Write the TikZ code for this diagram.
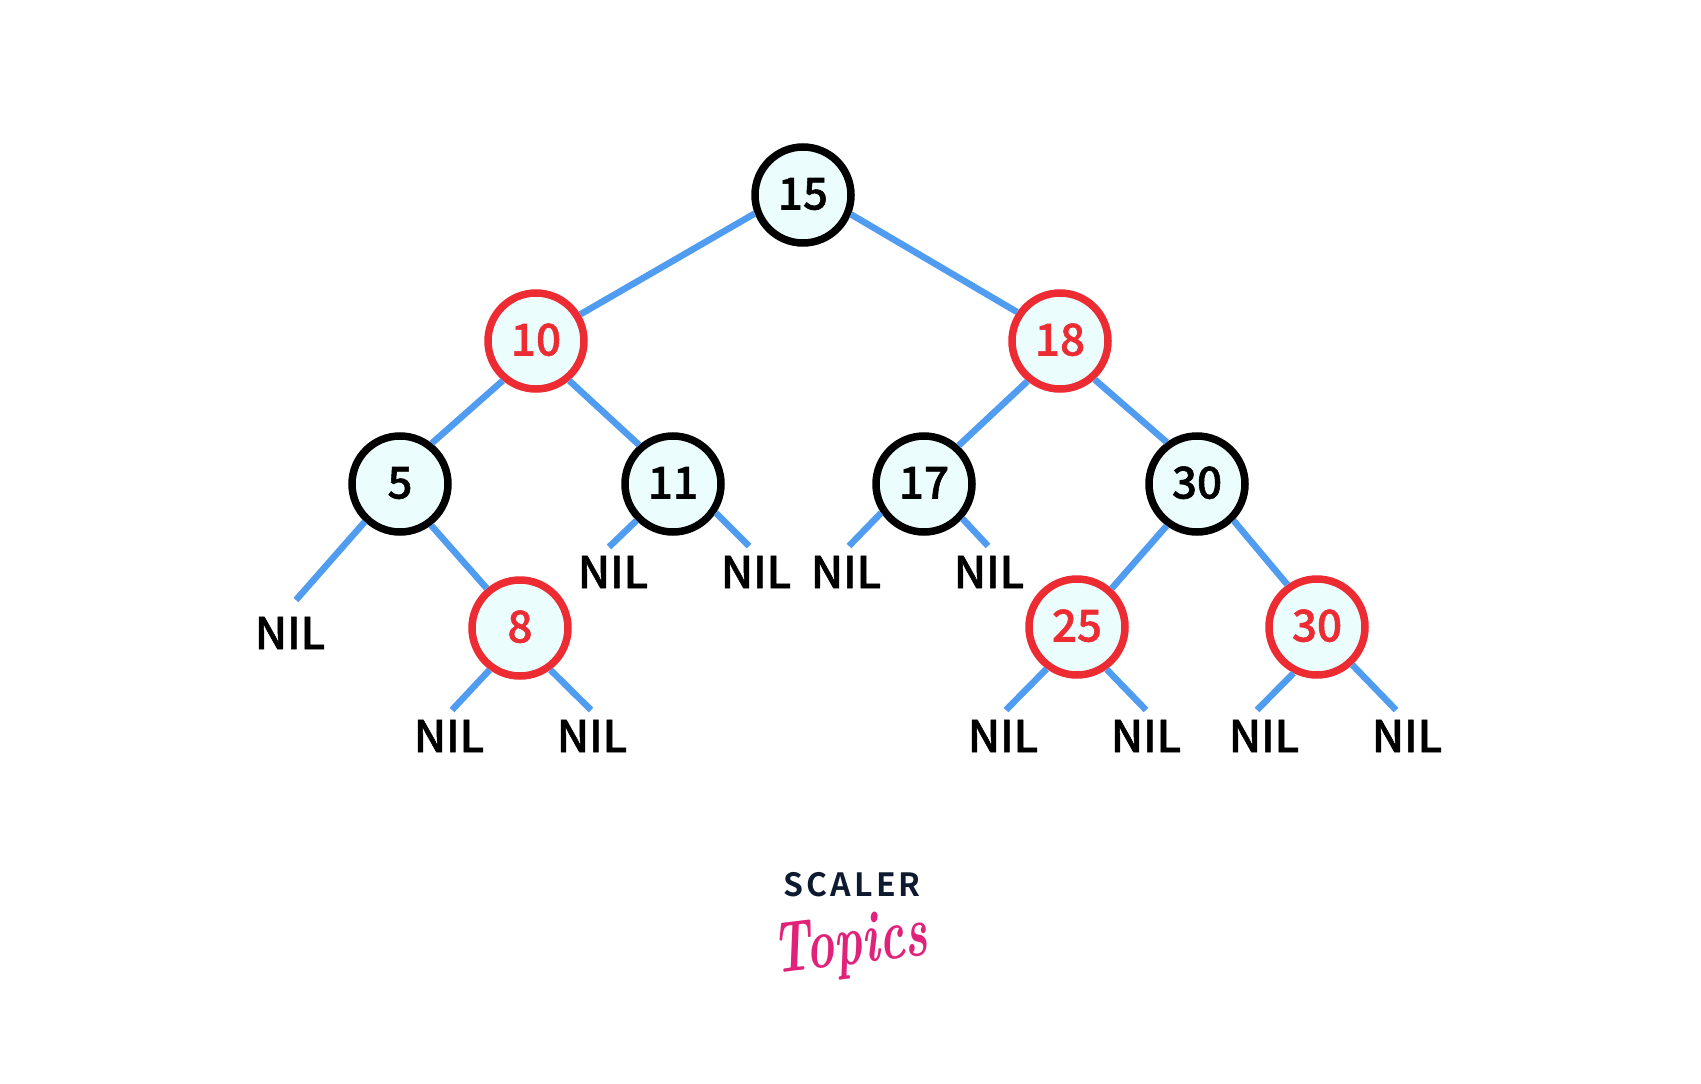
\documentclass[tikz,border=0pt]{standalone}
\usepackage{tikz}
\usepackage{xcolor}
\usepackage{fontspec}
\setmainfont{Noto Sans CJK SC Medium}[BoldFont={Noto Sans CJK SC Bold}]
\newfontfamily\treefont{Noto Sans CJK SC Medium}[FakeBold=1.2]
\definecolor{edgeblue}{HTML}{4F9CF0}
\definecolor{nodefill}{HTML}{EBFDFD}
\definecolor{redring}{HTML}{EC2B33}
\definecolor{logonavy}{HTML}{0E1A2F}
\definecolor{logopink}{HTML}{E0227A}

\begin{document}
\begin{tikzpicture}[x=1pt, y=-1pt,
      every node/.style = {font=\fontsize{44}{44}\treefont, inner sep=0pt},
      blacknode/.style = {shape=circle, draw=black, fill=nodefill, line width=7.5pt,
        minimum size=96pt, text=black, text height=32pt, text depth=3pt},
      rednode/.style = {blacknode, draw=redring, text=redring},
      nil/.style = {text=black},
      link/.style = {draw=edgeblue, line width=6.5pt}]
      \useasboundingbox (0,0) rectangle (1701,1084);
      % inner nodes
      \node[blacknode] (n15) at (803,195) {15};
      \node[rednode] (n10) at (536,341) {10};
      \node[rednode] (n18) at (1060,341) {18};
      \node[blacknode] (n5) at (400,484) {5};
      \node[blacknode] (n11) at (673,484) {11};
      \node[blacknode] (n17) at (924,484) {17};
      \node[blacknode] (n30) at (1197,484) {30};
      \node[rednode] (n8) at (520,628) {8};
      \node[rednode] (n25) at (1077,627) {25};
      \node[rednode] (n30r) at (1317,627) {30};
      % leaves
      \node[nil] (nil5) at (290,633) {NIL};
      \node[nil] (nil11a) at (613,572) {NIL};
      \node[nil] (nil11b) at (756,572) {NIL};
      \node[nil] (nil17a) at (846,572) {NIL};
      \node[nil] (nil17b) at (989,572) {NIL};
      \node[nil] (nil8a) at (449,736) {NIL};
      \node[nil] (nil8b) at (592,736) {NIL};
      \node[nil] (nil25a) at (1003,736) {NIL};
      \node[nil] (nil25b) at (1146,736) {NIL};
      \node[nil] (nil30a) at (1264,736) {NIL};
      \node[nil] (nil30b) at (1407,736) {NIL};
      % free ends over the leaves
      \coordinate (end5) at (296,600);
      \coordinate (end11a) at (609,547);
      \coordinate (end11b) at (749,546);
      \coordinate (end17a) at (849,546);
      \coordinate (end17b) at (988,546);
      \coordinate (end8a) at (452,710);
      \coordinate (end8b) at (591,710);
      \coordinate (end25a) at (1006,710);
      \coordinate (end25b) at (1146,710);
      \coordinate (end30a) at (1257,710);
      \coordinate (end30b) at (1396,710);
      % connectors
      \draw[link] (n15.201) -- (n10.31);
      \draw[link] (n15.338) -- (n18.146);
      \draw[link] (n10.230) -- (n5.52);
      \draw[link] (n10.310) -- (n11.131);
      \draw[link] (n18.231) -- (n17.48);
      \draw[link] (n18.312) -- (n30.126);
      \draw[link] (n5.227) -- (end5);
      \draw[link] (n5.307) -- (n8.130);
      \draw[link] (n11.225) -- (end11a);
      \draw[link] (n11.326) -- (end11b);
      \draw[link] (n17.214) -- (end17a);
      \draw[link] (n17.318) -- (end17b);
      \draw[link] (n30.234) -- (n25.48);
      \draw[link] (n30.315) -- (n30r.125);
      \draw[link] (n8.234) -- (end8a);
      \draw[link] (n8.306) -- (end8b);
      \draw[link] (n25.234) -- (end25a);
      \draw[link] (n25.305) -- (end25b);
      \draw[link] (n30r.243) -- (end30a);
      \draw[link] (n30r.313) -- (end30b);
      % logo
      \node[text=logonavy, font=\fontsize{32}{32}\selectfont\rmfamily\bfseries] (scaler) at (852,885) {\addfontfeature{LetterSpace=10}SCALER};
      \node[text=logopink, rotate=7, xscale=0.95, yscale=1.45, font=\fontsize{50}{50}\selectfont] (topics) at (850,947) {\fontspec{Latin Modern Roman}\bfseries\itshape Topics};
  \end{tikzpicture}
\end{document}
